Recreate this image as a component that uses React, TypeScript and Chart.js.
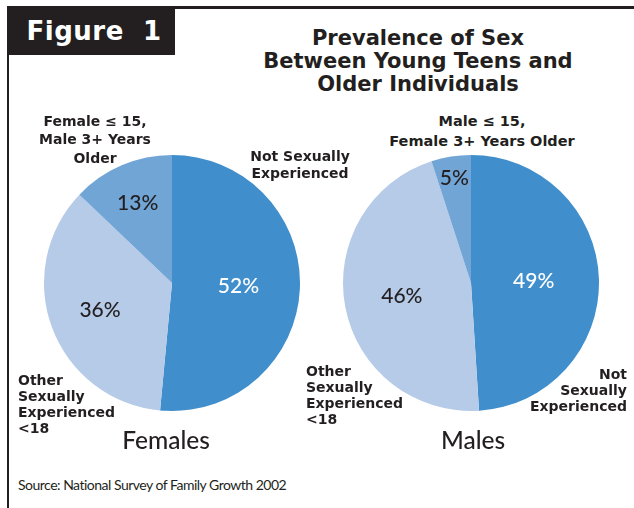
import React, { useEffect, useRef } from "react";
import { Chart, registerables } from "chart.js";

Chart.register(...registerables);

const sliceNames = [
  "Not Sexually Experienced",
  "Other Sexually Experienced <18",
  "Younger Teen, Partner 3+ Years Older",
];
const femaleValues = [52, 36, 13];
const maleValues = [49, 46, 5];
const femaleLabels = ["52%", "36%", "13%"];
const maleLabels = ["49%", "46%", "5%"];
const sliceColors = ["#408ECC", "#B5CBE8", "#71A5D6"];
const labelColors = ["#FFFFFF", "#231F20", "#231F20"];

const INK = "#231F20";
const HEAVY = "'DejaVu Sans', sans-serif";
const BOOK = "'Lato', 'DejaVu Sans', sans-serif";

type PieProps = {
  values: number[];
  labels: string[];
  radial: number[];
  left: number;
  top: number;
  size: number;
};

function Pie({ values, labels, radial, left, top, size }: PieProps) {
  const ref = useRef<HTMLCanvasElement | null>(null);
  useEffect(() => {
    if (!ref.current) return;
    const pctLabelPlugin = {
      id: "pctLabels",
      afterDatasetsDraw(chart: any) {
        const meta = chart.getDatasetMeta(0);
        const ctx = chart.ctx;
        ctx.save();
        ctx.font = `500 21px ${BOOK}`;
        ctx.textAlign = "center";
        ctx.textBaseline = "middle";
        meta.data.forEach((arc: any, i: number) => {
          const p = arc.getProps(["x", "y", "startAngle", "endAngle", "outerRadius"], true);
          const mid = (p.startAngle + p.endAngle) / 2;
          const r = p.outerRadius * radial[i];
          ctx.fillStyle = labelColors[i];
          ctx.fillText(labels[i], p.x + Math.cos(mid) * r, p.y + Math.sin(mid) * r);
        });
        ctx.restore();
      },
    };
    const chart = new Chart(ref.current, {
      type: "pie",
      data: {
        labels: sliceNames,
        datasets: [
          {
            data: values,
            backgroundColor: sliceColors,
            borderWidth: 0,
          },
        ],
      },
      options: {
        animation: false,
        responsive: false,
        layout: { padding: 2 },
        plugins: { legend: { display: false }, tooltip: { enabled: false } },
      },
      plugins: [pctLabelPlugin],
    });
    return () => chart.destroy();
  }, []);
  return (
    <canvas
      ref={ref}
      width={size}
      height={size}
      style={{ position: "absolute", left, top, width: size, height: size }}
    />
  );
}

type TextProps = {
  lines: string[];
  x: number;
  y: number; // center of first line
  lh: number;
  align: "left" | "center" | "right";
  font: string;
  size: number;
  weight: number;
  color?: string;
  spacing?: number;
};

function Txt({ lines, x, y, lh, align, font, size, weight, color = INK, spacing = 0 }: TextProps) {
  const tx = align === "center" ? "translateX(-50%)" : align === "right" ? "translateX(-100%)" : "none";
  return (
    <div
      style={{
        position: "absolute",
        left: x,
        top: y - lh / 2,
        transform: tx,
        textAlign: align,
        whiteSpace: "pre",
        fontFamily: font,
        fontSize: size,
        fontWeight: weight,
        lineHeight: `${lh}px`,
        color,
        letterSpacing: spacing,
      }}
    >
      {lines.join("\n")}
    </div>
  );
}

export default function App() {
  return (
    <div
      style={{
        position: "absolute",
        left: 0,
        top: 0,
        width: 634,
        height: 508,
        background: "#FFFFFF",
        overflow: "hidden",
      }}
    >
      {/* frame */}
      <div style={{ position: "absolute", left: 7, top: 6, width: 627, height: 3, background: INK }} />
      <div style={{ position: "absolute", left: 7, top: 6, width: 2, height: 502, background: INK }} />
      <div style={{ position: "absolute", left: 7, top: 6, width: 168, height: 49, background: INK }} />
      <Txt lines={["Figure  1"]} x={94} y={31} lh={34} align="center" font={HEAVY} size={26} weight={700} color="#FFFFFF" spacing={0.5} />

      <Txt
        lines={["Prevalence of Sex", "Between Young Teens and", "Older Individuals"]}
        x={418}
        y={38}
        lh={23}
        align="center"
        font={HEAVY}
        size={21}
        weight={700}
      />

      <Pie values={femaleValues} labels={femaleLabels} radial={[0.52, 0.6, 0.68]} left={42} top={153} size={260} />
      <Pie values={maleValues} labels={maleLabels} radial={[0.49, 0.55, 0.83]} left={341} top={153} size={260} />

      <Txt lines={["Female \u2264 15,", "Male 3+ Years", "Older"]} x={95} y={121} lh={18.5} align="center" font={HEAVY} size={14} weight={700} />
      <Txt lines={["Not Sexually", "Experienced"]} x={300} y={156} lh={17} align="center" font={HEAVY} size={14} weight={700} />
      <Txt lines={["Other", "Sexually", "Experienced", "<18"]} x={18} y={380} lh={16} align="left" font={HEAVY} size={14} weight={700} />
      <Txt lines={["Females"]} x={166} y={440} lh={26} align="center" font={BOOK} size={24.5} weight={500} />

      <Txt lines={["Male \u2264 15,", "Female 3+ Years Older"]} x={482} y={121} lh={20} align="center" font={HEAVY} size={14.5} weight={700} />
      <Txt lines={["Other", "Sexually", "Experienced", "<18"]} x={306} y={371} lh={16} align="left" font={HEAVY} size={14} weight={700} />
      <Txt lines={["Not", "Sexually", "Experienced"]} x={627} y={374} lh={16} align="right" font={HEAVY} size={14} weight={700} />
      <Txt lines={["Males"]} x={473} y={440} lh={26} align="center" font={BOOK} size={24.5} weight={500} />

      <Txt lines={["Source: National Survey of Family Growth 2002"]} x={18} y={485} lh={18} align="left" font={BOOK} size={14} weight={400} spacing={-0.5} />
    </div>
  );
}
